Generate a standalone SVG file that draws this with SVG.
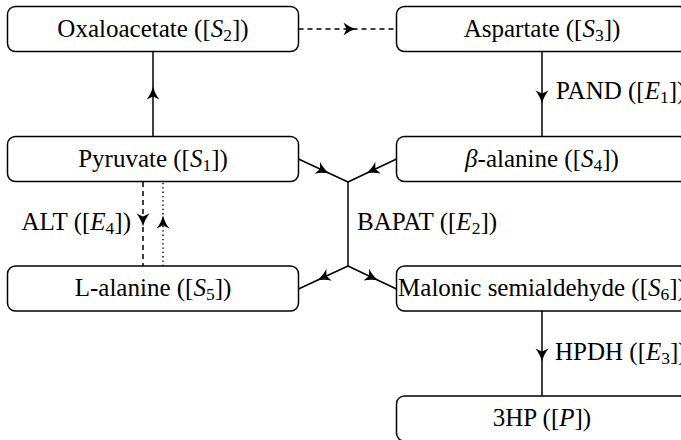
<svg xmlns="http://www.w3.org/2000/svg" width="681" height="440" viewBox="0 0 681 440" font-family="Liberation Serif, Times New Roman, serif" font-size="25">
<defs>
<marker id="arr" viewBox="-9 -9 18 18" refX="0" refY="0" markerWidth="18" markerHeight="18" markerUnits="userSpaceOnUse" orient="auto">
<path d="M6.5,0 C2,-1.2 -3,-3.5 -6.5,-6.5 L-3.5,0 L-6.5,6.5 C-3,3.5 2,1.2 6.5,0 Z" fill="#000" stroke="none"/>
</marker>
</defs>
<g id="connectors" fill="none" stroke="#000" stroke-width="1.5">
<path d="M153,136 L153,93 L153,52" marker-mid="url(#arr)"/>
<path stroke-dasharray="5 4" d="M298.5,29 L350,29 L396.5,29" marker-mid="url(#arr)"/>
<path d="M542,52 L542,97 L542,136" marker-mid="url(#arr)"/>
<path stroke-dasharray="5 4" d="M143,182 L143,220 L143,266" marker-mid="url(#arr)"/>
<path stroke-dasharray="1.3 3" d="M163,266 L163,222 L163,182" marker-mid="url(#arr)"/>
<path d="M298.5,159 L323.2,170.5 L348,182" marker-mid="url(#arr)"/>
<path d="M396.5,159 L372.2,170.5 L348,182" marker-mid="url(#arr)"/>
<path d="M348,182 L348,266"/>
<path d="M348,266 L323.2,277.5 L298.5,289" marker-mid="url(#arr)"/>
<path d="M348,266 L372.2,277.5 L396.5,289" marker-mid="url(#arr)"/>
<path d="M542,311 L542,355 L542,396" marker-mid="url(#arr)"/>
</g>
<g id="labels" fill="#000">
<text x="556" y="99">PAND ([<tspan font-style="italic">E</tspan><tspan font-size="17.5" dy="4">1</tspan><tspan dy="-4">])</tspan></text>
<text x="131" y="230" text-anchor="end">ALT ([<tspan font-style="italic">E</tspan><tspan font-size="17.5" dy="4">4</tspan><tspan dy="-4">])</tspan></text>
<text x="357" y="230">BAPAT ([<tspan font-style="italic">E</tspan><tspan font-size="17.5" dy="4">2</tspan><tspan dy="-4">])</tspan></text>
<text x="555" y="360">HPDH ([<tspan font-style="italic">E</tspan><tspan font-size="17.5" dy="4">3</tspan><tspan dy="-4">])</tspan></text>
</g>
<g id="nodes" fill="#fff" stroke="#000" stroke-width="1.5">
<g id="oxaloacetate">
<rect x="7.5" y="6.5" width="291" height="45" rx="8"/>
<text fill="#000" stroke="none" text-anchor="middle" x="153" y="37">Oxaloacetate ([<tspan font-style="italic">S</tspan><tspan font-size="17.5" dy="4">2</tspan><tspan dy="-4">])</tspan></text>
</g>
<g id="aspartate">
<rect x="396.5" y="6.5" width="291" height="45" rx="8"/>
<text fill="#000" stroke="none" text-anchor="middle" x="542" y="37">Aspartate ([<tspan font-style="italic">S</tspan><tspan font-size="17.5" dy="4">3</tspan><tspan dy="-4">])</tspan></text>
</g>
<g id="pyruvate">
<rect x="7.5" y="136.5" width="291" height="45" rx="8"/>
<text fill="#000" stroke="none" text-anchor="middle" x="153" y="167">Pyruvate ([<tspan font-style="italic">S</tspan><tspan font-size="17.5" dy="4">1</tspan><tspan dy="-4">])</tspan></text>
</g>
<g id="beta-alanine">
<rect x="396.5" y="136.5" width="291" height="45" rx="8"/>
<text fill="#000" stroke="none" text-anchor="middle" x="542" y="167"><tspan font-style="italic">β</tspan>-alanine ([<tspan font-style="italic">S</tspan><tspan font-size="17.5" dy="4">4</tspan><tspan dy="-4">])</tspan></text>
</g>
<g id="l-alanine">
<rect x="7.5" y="266" width="291" height="45" rx="8"/>
<text fill="#000" stroke="none" text-anchor="middle" x="153" y="296">L-alanine ([<tspan font-style="italic">S</tspan><tspan font-size="17.5" dy="4">5</tspan><tspan dy="-4">])</tspan></text>
</g>
<g id="malonic">
<rect x="396.5" y="266" width="291" height="45" rx="8"/>
<text fill="#000" stroke="none" text-anchor="middle" x="542" y="296">Malonic semialdehyde ([<tspan font-style="italic">S</tspan><tspan font-size="17.5" dy="4">6</tspan><tspan dy="-4">])</tspan></text>
</g>
<g id="hp3">
<rect x="396.5" y="396" width="291" height="45" rx="8"/>
<text fill="#000" stroke="none" text-anchor="middle" x="542" y="426">3HP ([<tspan font-style="italic">P</tspan>])</text>
</g>
</g>
</svg>
